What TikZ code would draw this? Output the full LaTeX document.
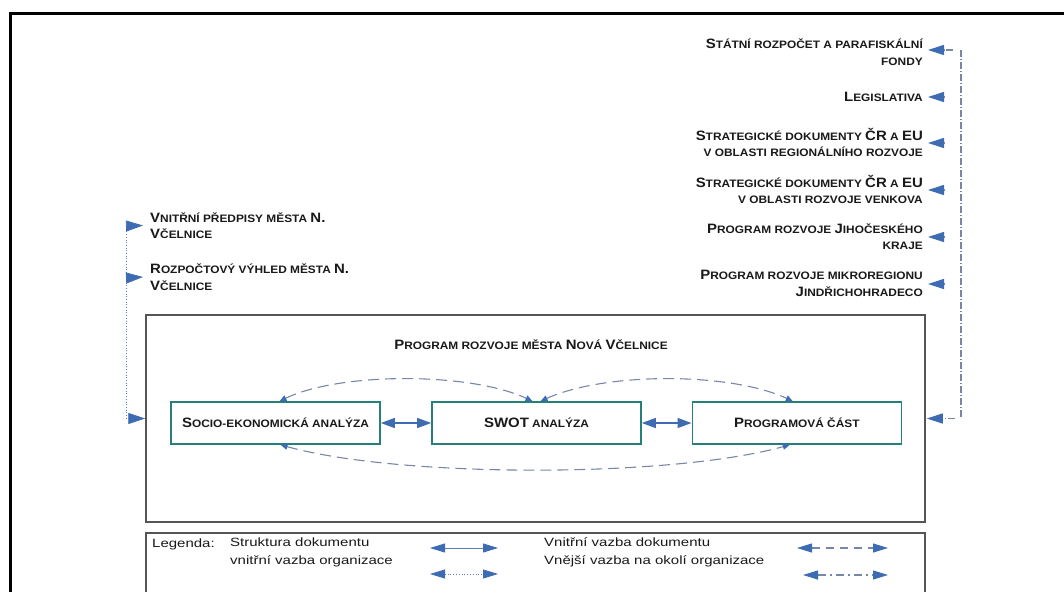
\documentclass[tikz,border=0pt]{standalone}
\usepackage{fontspec}
\setmainfont{Liberation Sans}[FakeStretch=1.25]
\newfontfamily\scfont{Liberation Sans}[FakeStretch=1.1]
\usetikzlibrary{arrows.meta}
\definecolor{ablue}{RGB}{62,108,178}
\definecolor{lblue}{RGB}{95,125,190}
\definecolor{dgray}{RGB}{120,135,165}
\definecolor{tealb}{RGB}{38,128,122}
\definecolor{txt}{RGB}{25,25,25}
\definecolor{frame}{RGB}{85,85,85}
\newcommand\Bg[1]{{\fontsize{13.6}{16.5}\selectfont #1}}
\tikzset{
  sc/.style={font=\scfont\fontsize{10.8}{16.5}\selectfont\bfseries, text=txt, inner sep=0pt},
  lgtext/.style={font=\fontsize{12}{18}\selectfont, text=txt, inner sep=0pt, align=left},
  stagebox/.style={sc, draw=tealb, line width=1.6pt, minimum width=209pt, minimum height=42pt},
  extline/.style={draw=dgray, line width=1.6pt, dash pattern=on 7pt off 2pt on 1pt off 2pt},
  extarrow/.style={dgray, line width=1.2pt, dash pattern=on 7pt off 2pt on 1pt off 2pt, -btip},
  arcline/.style={dgray, line width=1.1pt, dash pattern=on 11pt off 6pt, stip-stip},
  dotline/.style={draw=lblue, line width=0.7pt, dotted},
  stip/.tip={Triangle[length=7pt,width=6pt,color=ablue,fill=ablue]},
  btip/.tip={Triangle[length=16pt,width=10pt,color=ablue,fill=ablue]},
  ltip/.tip={Triangle[length=17pt,width=11pt,color=ablue,fill=ablue]},
  gtip/.tip={Triangle[length=15pt,width=9pt,color=ablue,fill=ablue]},
}
\begin{document}
\begin{tikzpicture}[x=1pt,y=-1pt]
\useasboundingbox (0,0) rectangle (1064,592);
% outer frame
\draw[line width=3pt, black] (10,592) -- (10,13) -- (1064,13);

% right side labels
\node[sc, anchor=east, align=right] (r1) at (923,52) {\Bg{S}TÁTNÍ ROZPOČET A PARAFISKÁLNÍ\\FONDY};
\node[sc, anchor=east, align=right] (r2) at (923,97) {\Bg{L}EGISLATIVA};
\node[sc, anchor=east, align=right] (r3) at (923,142.5) {\Bg{S}TRATEGICKÉ DOKUMENTY \Bg{ČR} A \Bg{EU}\\V OBLASTI REGIONÁLNÍHO ROZVOJE};
\node[sc, anchor=east, align=right] (r4) at (923,189.5) {\Bg{S}TRATEGICKÉ DOKUMENTY \Bg{ČR} A \Bg{EU}\\V OBLASTI ROZVOJE VENKOVA};
\node[sc, anchor=east, align=right] (r5) at (923,236.5) {\Bg{P}ROGRAM ROZVOJE \Bg{J}IHOČESKÉHO\\KRAJE};
\node[sc, anchor=east, align=right] (r6) at (923,283.5) {\Bg{P}ROGRAM ROZVOJE MIKROREGIONU\\\Bg{J}INDŘICHOHRADECO};

% left side labels
\node[sc, anchor=west, align=left] (l1) at (150,225.5) {\Bg{V}NITŘNÍ PŘEDPISY MĚSTA \Bg{N.}\\\Bg{V}ČELNICE};
\node[sc, anchor=west, align=left] (l2) at (150,277) {\Bg{R}OZPOČTOVÝ VÝHLED MĚSTA \Bg{N.}\\\Bg{V}ČELNICE};

% main box
\node[draw=frame, line width=1.5pt, minimum width=779pt, minimum height=207pt, inner sep=0] (main) at (535.5,418.5) {};
\node[sc] (title) at (531,345) {\Bg{P}ROGRAM ROZVOJE MĚSTA \Bg{N}OVÁ \Bg{V}ČELNICE};

\node[stagebox] (b1) at (275.5,423) {\Bg{S}OCIO-EKONOMICKÁ ANALÝZA};
\node[stagebox] (b2) at (536.5,423) {\Bg{SWOT} ANALÝZA};
\node[stagebox] (b3) at (796.8,423) {\Bg{P}ROGRAMOVÁ ČÁST};

\draw[ablue, line width=1.4pt, {Triangle[length=14pt,width=10pt]}-{Triangle[length=14pt,width=10pt]}] (b1.east) -- (b2.west);
\draw[ablue, line width=1.4pt, {Triangle[length=14pt,width=10pt]}-{Triangle[length=14pt,width=10pt]}] (b2.east) -- (b3.west);

% dashed arcs
\draw[arcline] ([xshift=4pt]b1.north) .. controls (340,372) and (470,372) .. ([xshift=-4pt]b2.north);
\draw[arcline] ([xshift=4pt]b2.north) .. controls (605,372) and (730,372) .. ([xshift=-4pt]b3.north);
\draw[arcline] ([xshift=5pt]b1.south) .. controls (400,478) and (670,478) .. ([xshift=-7pt]b3.south);

% left dotted connector
\coordinate (lt1) at (126,226);
\coordinate (lt2) at (126,278);
\coordinate (lbot) at (126,418.5);
\draw[dotline] (lt1) -- (lbot);
\draw[dotline, -ltip] (lt1) -- ([xshift=-7pt]l1.west);
\draw[dotline, -ltip] (lt2) -- ([xshift=-7pt]l2.west);
\draw[dotline, -ltip] (lbot) -- (main.west);

% right dash-dot connector
\coordinate (rt1) at (961,50);
\coordinate (rt2) at (961,97);
\coordinate (rt3) at (961,143);
\coordinate (rt4) at (961,190);
\coordinate (rt5) at (961,237);
\coordinate (rt6) at (961,284);
\coordinate (rbot) at (961,418.5);
\draw[extline] (rt1) -- (rbot);
\draw[extarrow, shorten <=8pt] (rt1) -- ([xshift=5pt]r1.east |- rt1);
\foreach \i in {2,...,6}{
  \draw[extarrow, shorten <=17pt] (rt\i) -- ([xshift=5pt]r\i.east |- rt\i);
}
\draw[extarrow, shorten <=6pt] (rbot) -- ([xshift=1pt]main.east);

% legend
\draw[frame, line width=1.5pt] (146,592) -- (146,533) -- (925,533) -- (925,592);
\node[lgtext, anchor=west] (lg) at (152,544) {Legenda:};
\node[lgtext, anchor=west] (lg1) at (230,552) {Struktura dokumentu\\vnitřní vazba organizace};
\node[lgtext, anchor=west] (lg2) at (544,552) {Vnitřní vazba dokumentu\\Vnější vazba na okolí organizace};
\coordinate (a1s) at (430,548); \coordinate (a1e) at (498,548);
\coordinate (a2s) at (430,574); \coordinate (a2e) at (498,574);
\coordinate (a3s) at (797,548); \coordinate (a3e) at (888,548);
\coordinate (a4s) at (803,575); \coordinate (a4e) at (888,575);
\draw[lblue, line width=0.8pt, gtip-gtip] (a1s) -- (a1e);
\draw[lblue, line width=0.8pt, dotted, gtip-gtip] (a2s) -- (a2e);
\draw[dgray, line width=1.1pt, dash pattern=on 8pt off 6pt, gtip-gtip] (a3s) -- (a3e);
\draw[dgray, line width=1.1pt, dash pattern=on 8pt off 4pt on 2pt off 4pt, gtip-gtip] (a4s) -- (a4e);
\end{tikzpicture}
\end{document}
